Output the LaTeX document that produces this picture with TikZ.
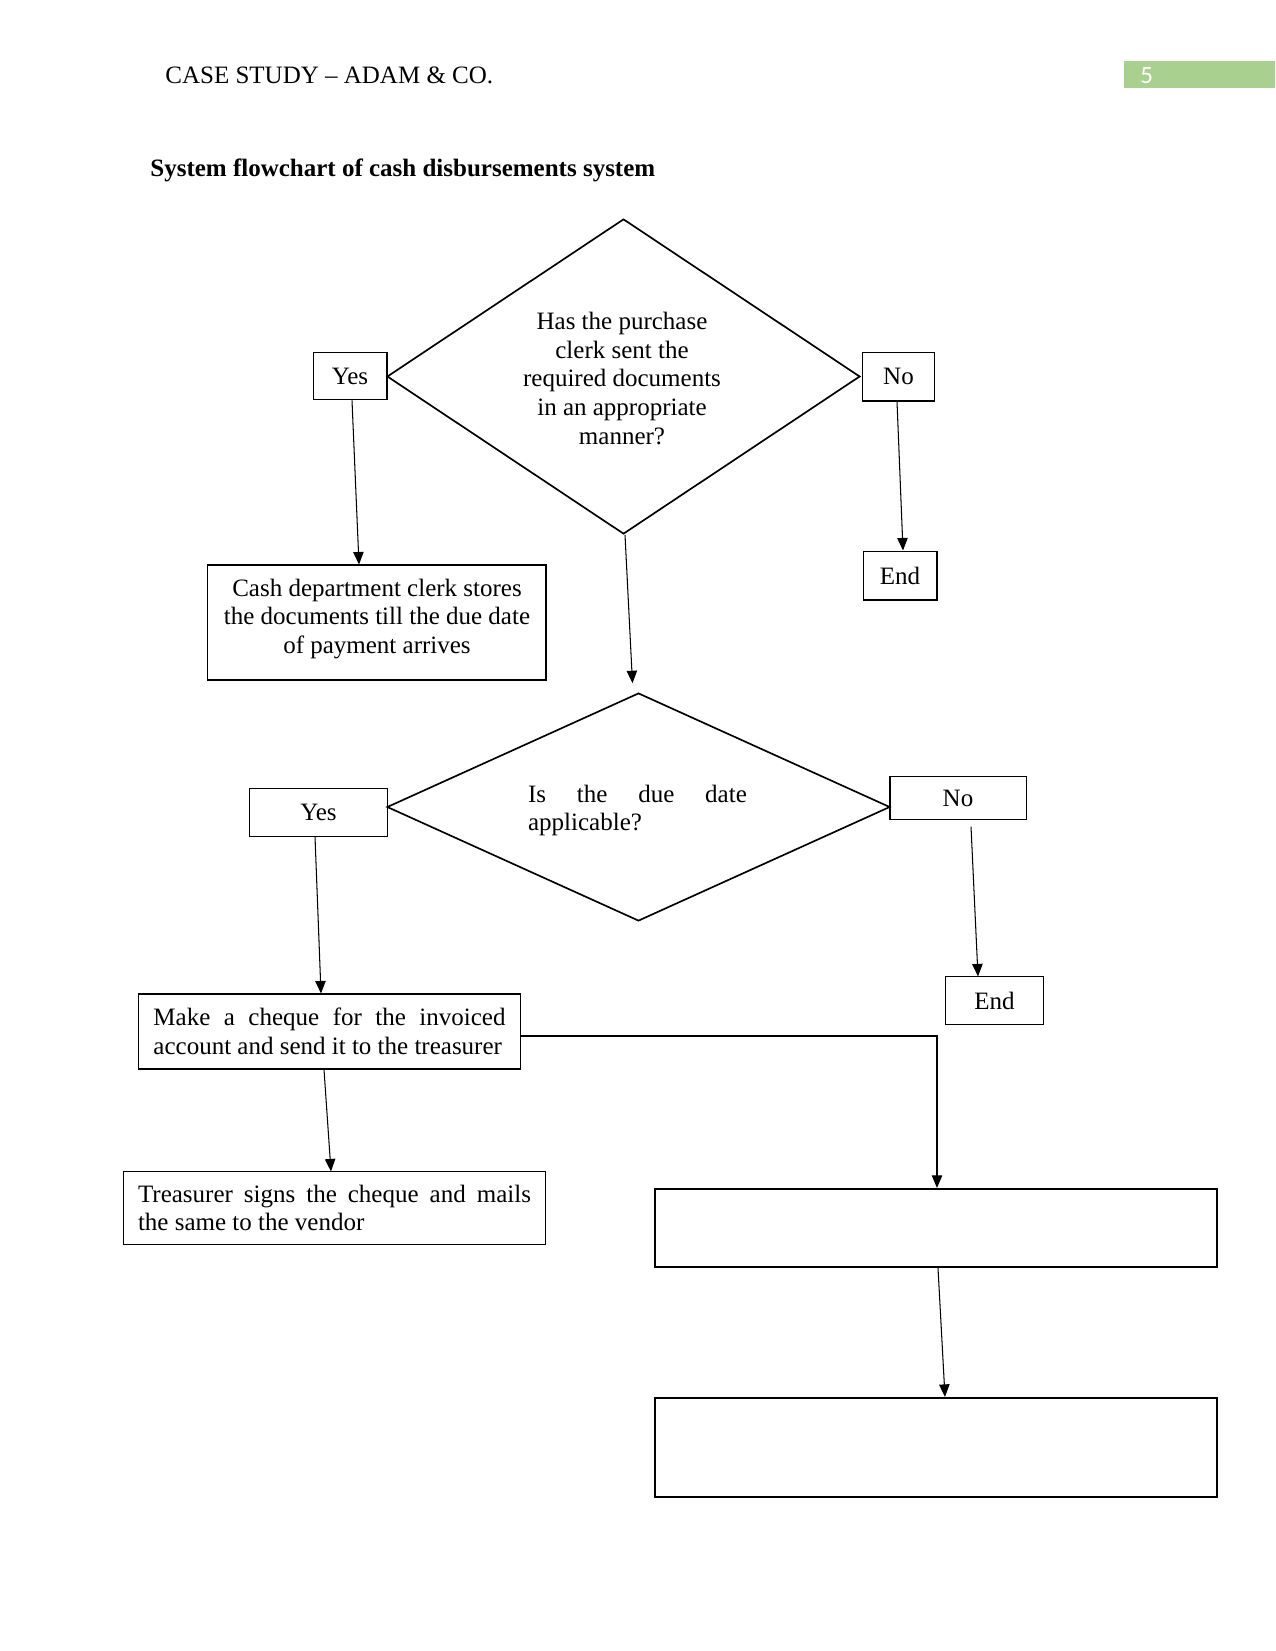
\documentclass[tikz,border=0pt]{standalone}
\usepackage{fontspec}
\setmainfont{Liberation Serif}
\newfontfamily\calib{Carlito}
\usetikzlibrary{shapes.geometric,arrows.meta,calc}
\definecolor{hdrgreen}{RGB}{169,208,142}
\begin{document}
\begin{tikzpicture}[x=0.48pt,y=-0.48pt,
  every node/.style={font=\fontsize{12}{13.8}\selectfont},
  box/.style={draw,line width=0.5pt,inner sep=0pt},
  emptybox/.style={draw,line width=1.1pt,inner sep=0pt},
  dia/.style={draw,diamond,line width=0.8pt,inner sep=0pt},
  plain/.style={inner sep=0pt},
  conn/.style={line width=0.5pt,-{Triangle[length=6pt,width=5pt]}},
]
\useasboundingbox (0,0) rectangle (1275,1651);
% header
\node[fill=hdrgreen,inner sep=0pt,minimum width=72.5pt,minimum height=13pt,anchor=north west] (pg) at (1124,61) {};
\node[plain,anchor=base west,text=white,font=\calib\fontsize{12}{14}\selectfont] (pgnum) at (1140,84) {5};
\node[plain,anchor=base west] (hdr) at (165,84) {CASE STUDY – ADAM \& CO.};
\node[plain,anchor=base west,font=\bfseries\fontsize{12}{14}\selectfont] (title) at (150,177) {System flowchart of cash disbursements system};

% first decision
\node[dia,minimum width=227pt,minimum height=151.2pt] (d1) at (623.5,376.5) {};
\node[plain,align=center] (d1t) at (622,378.5) {Has the purchase\\clerk sent the\\required documents\\in an appropriate\\manner?};
\node[box,minimum width=35.5pt,minimum height=23pt] (yes1) at (350,376) {Yes};
\node[box,minimum width=35pt,minimum height=23.5pt] (no1) at (898.5,376.5) {No};
\node[box,minimum width=35.5pt,minimum height=23.5pt] (end1) at (900,575.5) {End};
\node[box,minimum width=162.7pt,minimum height=55.2pt] (cash) at (376.5,622.5) {};
\node[plain,align=center] (casht) at (377,619) {Cash department clerk stores\\the documents till the due date\\of payment arrives};

% second decision
\node[dia,minimum width=241.4pt,minimum height=109.4pt] (d2) at (638.5,807) {};
\node[plain,align=left] (d2t) at (637.5,810.5) {\makebox[105pt][s]{Is the due date}\\applicable?};
\node[box,minimum width=65.8pt,minimum height=22.6pt] (yes2) at (318.5,812.5) {Yes};
\node[box,minimum width=65.3pt,minimum height=20.2pt] (no2) at (958,798) {No};
\node[box,minimum width=46.6pt,minimum height=22.6pt] (end2) at (994.5,1000.5) {End};

\node[box,minimum width=183.8pt,minimum height=36pt,align=left] (make) at (329.5,1031.5)
  {\makebox[169pt][s]{Make a cheque for the invoiced}\\account and send it to the treasurer};
\node[box,minimum width=203pt,minimum height=34.6pt,align=left] (treas) at (334.5,1208)
  {\makebox[188.6pt][s]{Treasurer signs the cheque and mails}\\the same to the vendor};

\node[emptybox,minimum width=269.8pt,minimum height=37.4pt] (e1) at (936,1228) {};
\node[emptybox,minimum width=269.8pt,minimum height=47.5pt] (e2) at (936,1447.5) {};

% connectors
\draw[conn] ($(yes1.south)+(2,0)$) -- ($(cash.north)+(-17.5,0)$);
\draw[conn] ($(no1.south)+(-1.5,0)$) -- ($(end1.north)+(3,0)$);
\coordinate (d2in) at ($(d2.north)+(-6,-9)$);
\draw[conn] ($(d1.south)+(1.5,0)$) -- (d2in);
\draw[conn] ($(yes2.south)+(-3.5,0)$) -- ($(make.north)+(-8.5,0)$);
\draw[conn] ($(no2.south)+(13,7)$) -- ($(end2.north)+(-16.5,0)$);
\draw[conn] ($(make.south)+(-5.5,0)$) -- ($(treas.north)+(-3.5,0)$);
\draw[conn] ($(make.east)+(0,4.5)$) -| ($(e1.north)+(1,0)$);
\draw[conn] ($(e1.south)+(2,0)$) -- ($(e2.north)+(9,0)$);
\end{tikzpicture}
\end{document}
